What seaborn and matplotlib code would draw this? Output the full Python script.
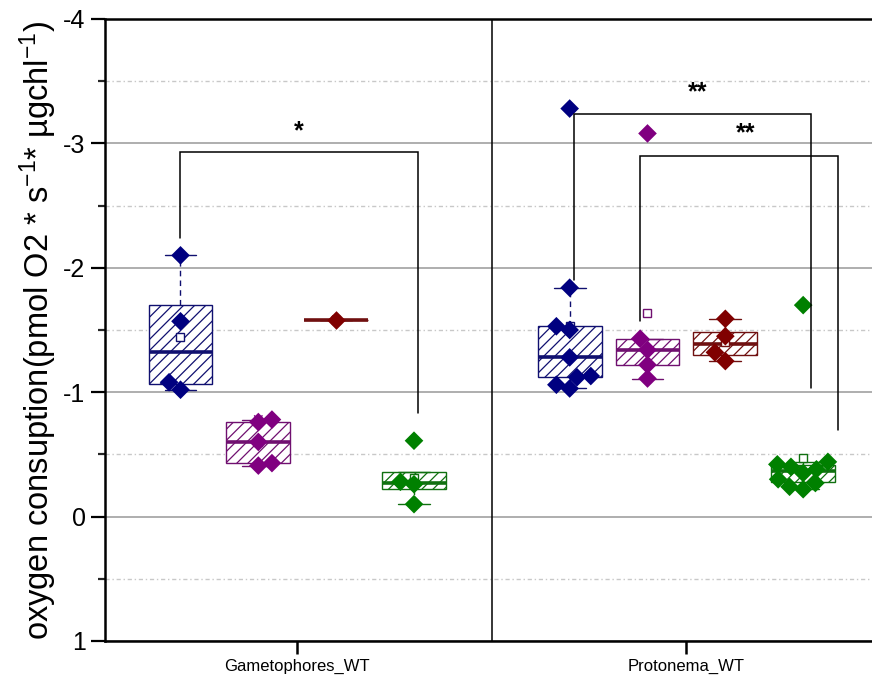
import numpy as np
import pandas as pd
import matplotlib
matplotlib.use("Agg")
import matplotlib.pyplot as plt
from matplotlib.ticker import MultipleLocator
import seaborn as sns

# Tissues on the x axis and the four measured lines inside each tissue
tissues = ["Gametophores_WT", "Protonema_WT"]
lines = ["S1", "S2", "S3", "S4"]
palette = {"S1": "#000080", "S2": "#800080", "S3": "#800000", "S4": "#008000"}

# Oxygen consumption per replicate (pmol O2 * s^-1 * ugchl^-1)
gam_s1 = [-2.10, -1.57, -1.08, -1.02]
gam_s2 = [-0.78, -0.76, -0.60, -0.43, -0.41]
gam_s3 = [-1.58]
gam_s4 = [-0.61, -0.28, -0.26, -0.10]

pro_s1 = [-3.28, -1.84, -1.53, -1.50, -1.28, -1.13, -1.12, -1.06, -1.03]
pro_s2 = [-3.08, -1.43, -1.34, -1.22, -1.11]
pro_s3 = [-1.59, -1.45, -1.32, -1.25]
pro_s4 = [-1.70, -0.44, -0.42, -0.40, -0.38, -0.35, -0.30, -0.27, -0.24, -0.22]

# Significance brackets: (x left, x right), bracket height, leg ends, label
bracket_x = [(-0.30, 0.31), (0.71, 1.32), (0.88, 1.39)]
bracket_top = [-2.93, -3.24, -2.90]
bracket_ends = [(-2.24, -0.83), (-1.90, -1.03), (-1.57, -0.70)]
bracket_text = ["*", "**", "**"]
bracket_text_pos = [(0.005, -3.10), (1.028, -3.41), (1.152, -3.08)]

series = {
    "Gametophores_WT": [gam_s1, gam_s2, gam_s3, gam_s4],
    "Protonema_WT": [pro_s1, pro_s2, pro_s3, pro_s4],
}
rows = []
for tissue in tissues:
    for name, values in zip(lines, series[tissue]):
        for v in values:
            rows.append((tissue, name, v))
df = pd.DataFrame(rows, columns=["tissue", "line", "value"])

sns.set_theme(style="white")
plt.rcParams["font.family"] = ["Liberation Sans", "DejaVu Sans"]
plt.rcParams["mathtext.fontset"] = "custom"
plt.rcParams["mathtext.rm"] = "Liberation Sans"
plt.rcParams["mathtext.it"] = "Liberation Sans"
plt.rcParams["mathtext.bf"] = "Liberation Sans:bold"
plt.rcParams["axes.unicode_minus"] = False
plt.rcParams["hatch.linewidth"] = 0.9

fig = plt.figure(figsize=(8.72, 6.79), dpi=100)
ax = fig.add_axes([105 / 872, 38 / 679, 776 / 872, 622 / 679])

# Boxes (quartiles, 1.5 IQR whiskers, mean)
sns.boxplot(
    data=df, x="tissue", y="value", hue="line", order=tissues, hue_order=lines,
    palette=palette, width=0.8, gap=0.18, whis=1.5, showfliers=False,
    showmeans=True, linewidth=1.0,
    meanprops=dict(marker="s", markerfacecolor="white", markersize=5.5,
                   markeredgewidth=1.0),
    whiskerprops=dict(linestyle=(0, (4, 3))),
    medianprops=dict(linewidth=2.6),
    legend=False, ax=ax,
)

# Hatched white boxes outlined in the series colour; matching line colours
centers = []
for patch in ax.patches:
    color = patch.get_facecolor()
    verts = patch.get_path().vertices
    centers.append((verts[:, 0].mean(), color))
    patch.set_facecolor("white")
    patch.set_edgecolor(color)
    patch.set_hatch("///")
    patch.set_zorder(2)
for line in ax.lines:
    xd = np.asarray(line.get_xdata(), dtype=float)
    if xd.size == 0:
        continue
    xm = xd.mean()
    color = min(centers, key=lambda c: abs(c[0] - xm))[1]
    if line.get_marker() == "s":
        line.set_markeredgecolor(color)
        line.set_markerfacecolor("white")
        line.set_zorder(3)
    else:
        line.set_color(color)
        line.set_zorder(2.5)

# Minimum / maximum markers
ext = (df.groupby(["tissue", "line"])["value"].agg(["min", "max"])
       .reset_index().melt(id_vars=["tissue", "line"], value_name="value"))
sns.stripplot(
    data=ext, x="tissue", y="value", hue="line", order=tissues, hue_order=lines,
    palette=palette, dodge=True, jitter=False, marker="x", size=6,
    linewidth=1.0, legend=False, ax=ax, zorder=3,
)

# Individual replicates
sns.swarmplot(
    data=df, x="tissue", y="value", hue="line", order=tissues, hue_order=lines,
    palette=palette, dodge=True, marker="D", size=9.5, linewidth=0,
    legend=False, ax=ax, zorder=4,
)

# Significance brackets
for (xl, xr), top, (el, er), txt, (tx, ty) in zip(
        bracket_x, bracket_top, bracket_ends, bracket_text, bracket_text_pos):
    ax.plot([xl, xl, xr, xr], [el, top, top, er], color="black", lw=1.1,
            zorder=5, solid_joinstyle="miter")
    ax.text(tx, ty, txt, ha="center", va="center", fontsize=18, color="black",
            fontweight="bold", zorder=6)

# Divider between the tissues
ax.axvline(0.5, color="black", lw=1.1, zorder=1)

ax.set_xlim(-0.494, 1.5)
ax.set_ylim(1, -4)
ax.yaxis.set_major_locator(MultipleLocator(1))
ax.yaxis.set_minor_locator(MultipleLocator(0.5))
ax.grid(axis="y", which="major", color="#a8a8a8", lw=1.3, zorder=0)
ax.grid(axis="y", which="minor", color="#c8c8c8", lw=1.0,
        linestyle=(0, (3, 2, 1, 2)), zorder=0)
ax.set_axisbelow(True)

for side in ["left", "bottom", "top"]:
    ax.spines[side].set_linewidth(1.8)
    ax.spines[side].set_color("black")
ax.spines["right"].set_visible(False)

ax.tick_params(axis="y", which="major", direction="out", length=10, width=1.6,
               labelsize=18, left=True, pad=4, colors="black")
ax.tick_params(axis="y", which="minor", direction="out", length=5, width=1.6,
               left=True)
ax.tick_params(axis="x", which="major", direction="out", length=9, width=1.8,
               labelsize=12, bottom=True, pad=4, colors="black")

ax.set_xlabel("")
ax.set_ylabel("oxygen consuption(pmol O2 * s$^{-1}$* µgchl$^{-1}$)",
              fontsize=23.5, color="black", labelpad=3)

fig.savefig("out.png", dpi=100)
